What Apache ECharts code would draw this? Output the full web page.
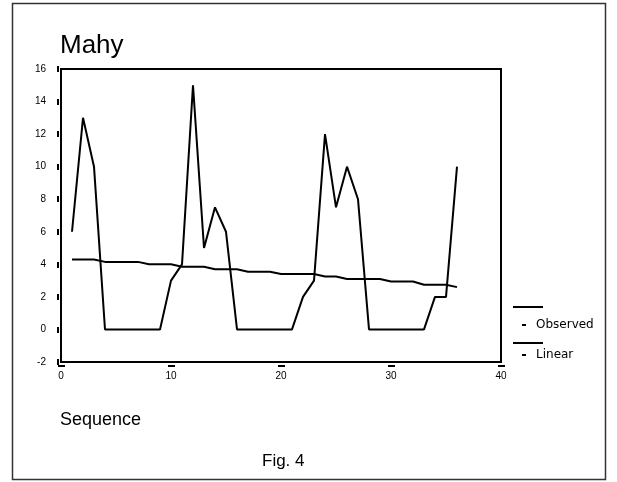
<!DOCTYPE html>
<html>
<head>
<meta charset="utf-8">
<script src="https://cdn.jsdelivr.net/npm/echarts@6/dist/echarts.min.js"></script>
<style>
html,body{margin:0;padding:0;background:#fff;}
#chart{width:617px;height:482px;}
</style>
</head>
<body>
<div id="chart"></div>
<script>
// Data
const sequence = [1,2,3,4,5,6,7,8,9,10,11,12,13,14,15,16,17,18,19,20,21,22,23,24,25,26,27,28,29,30,31,32,33,34,35,36];
const observed = [6,13,10,0,0,0,0,0,0,3,4,15,5,7.5,6,0,0,0,0,0,0,2,3,12,7.5,10,8,0,0,0,0,0,0,2,2,10];
const linear = [4.3,4.3,4.3,4.15,4.15,4.15,4.15,4.0,4.0,4.0,3.85,3.85,3.85,3.7,3.7,3.7,3.55,3.55,3.55,3.4,3.4,3.4,3.4,3.25,3.25,3.1,3.1,3.1,3.1,2.95,2.95,2.95,2.75,2.75,2.75,2.6];
const xTicks = [0,10,20,30,40];
const yTicks = [-2,0,2,4,6,8,10,12,14,16];
const seriesNames = ['Observed','Linear'];

const chart = echarts.init(document.getElementById('chart'), null, {renderer:'canvas'});
const FONT = '"Liberation Sans", Arial, sans-serif';

const option = {
  backgroundColor: '#fff',
  animation: false,
  title: {
    text: 'Mahy',
    left: 60,
    top: 33,
    padding: 0,
    textStyle: {fontFamily: FONT, fontSize: 26, fontWeight: 'normal', color: '#000'}
  },
  legend: {
    data: seriesNames,
    orient: 'vertical',
    left: 522,
    top: 318,
    itemWidth: 4,
    itemHeight: 2,
    itemGap: 16,
    icon: 'rect',
    padding: 0,
    textStyle: {fontFamily: '"DejaVu Sans", sans-serif', fontSize: 12, color: '#000', lineHeight: 14, padding: [0,0,0,5]},
    itemStyle: {color: '#000'},
    lineStyle: {width: 0}
  },
  grid: {
    left: 61, top: 69, width: 440, height: 293,
    show: true, borderColor: '#000', borderWidth: 2,
    containLabel: false
  },
  xAxis: {
    type: 'value',
    min: xTicks[0], max: xTicks[xTicks.length-1], interval: 10,
    offset: 3,
    axisLine: {show: false, onZero: false},
    axisTick: {show: true, length: 2, lineStyle: {color: '#000', width: 7}},
    axisLabel: {margin: 6, fontFamily: FONT, fontSize: 10, color: '#000'},
    splitLine: {show: false}
  },
  yAxis: {
    type: 'value',
    min: yTicks[0], max: yTicks[yTicks.length-1], interval: 2,
    offset: 2,
    axisLine: {show: false, onZero: false},
    axisTick: {show: true, length: 2, lineStyle: {color: '#000', width: 6}},
    axisLabel: {margin: 13, fontFamily: FONT, fontSize: 10, color: '#000'},
    splitLine: {show: false}
  },
  series: [
    {
      name: seriesNames[0], type: 'line', showSymbol: false, symbol: 'none',
      data: sequence.map((s, i) => [s, observed[i]]),
      lineStyle: {color: '#000', width: 2}, itemStyle: {color: '#000'}
    },
    {
      name: seriesNames[1], type: 'line', showSymbol: false, symbol: 'none',
      data: sequence.map((s, i) => [s, linear[i]]),
      lineStyle: {color: '#000', width: 2}, itemStyle: {color: '#000'}
    }
  ],
  graphic: [
    {type: 'rect', shape: {x: 12.5, y: 3.5, width: 593, height: 476}, style: {fill: 'none', stroke: '#333', lineWidth: 1.5}, silent: true},
    {type: 'line', shape: {x1: 513, y1: 307, x2: 543, y2: 307}, style: {stroke: '#000', lineWidth: 2}},
    {type: 'line', shape: {x1: 513, y1: 343, x2: 543, y2: 343}, style: {stroke: '#000', lineWidth: 2}},
    {type: 'text', left: 60, top: 411, style: {text: 'Sequence', font: '18px ' + FONT, fill: '#000'}},
    {type: 'text', left: 262, top: 453, style: {text: 'Fig. 4', font: '17px ' + FONT, fill: '#000'}}
  ]
};
chart.setOption(option);
</script>
</body>
</html>
